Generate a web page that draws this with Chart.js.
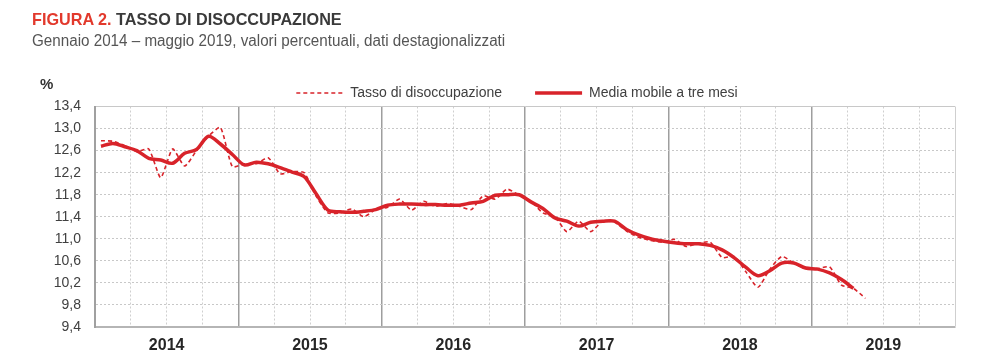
<!DOCTYPE html>
<html>
<head>
<meta charset="utf-8">
<script src="https://cdn.jsdelivr.net/npm/chart.js@4.4.1/dist/chart.umd.min.js"></script>
<style>
  html, body { margin: 0; padding: 0; background: #fff; }
  #wrap { position: relative; width: 1000px; height: 360px; }
  #chart { position: absolute; left: 0; top: 0; }
  .txt { font-family: 'Liberation Sans', Arial, sans-serif; white-space: nowrap; transform-origin: 0 0; }
  #title { position: absolute; left: 32px; top: 10px; font-size: 17px; font-weight: bold; color: #3a3a3a; transform: scaleX(0.954); }
  #title span { color: #e2392c; }
  #subtitle { position: absolute; left: 32px; top: 32px; font-size: 16px; color: #555; transform: scaleX(0.95); }
  #unit { position: absolute; left: 40px; top: 75px; font-size: 15px; font-weight: bold; color: #333; }
</style>
</head>
<body>
<div id="wrap">
  <canvas id="chart" width="1000" height="360"></canvas>
  <div id="title" class="txt"><span>FIGURA 2.</span> TASSO DI DISOCCUPAZIONE</div>
  <div id="subtitle" class="txt">Gennaio 2014 – maggio 2019, valori percentuali, dati destagionalizzati</div>
  <div id="unit" class="txt">%</div>
</div>
<script>
const years = ['2014', '2015', '2016', '2017', '2018', '2019'];
const months = ['gen', 'feb', 'mar', 'apr', 'mag', 'giu', 'lug', 'ago', 'set', 'ott', 'nov', 'dic'];
const yTicks = [9.4, 9.8, 10.2, 10.6, 11.0, 11.4, 11.8, 12.2, 12.6, 13.0, 13.4];

// tasso di disoccupazione mensile, gen 2014 - mag 2019
const tasso = [
  12.78, 12.77, 12.69, 12.58, 12.63, 12.11, 12.63, 12.32, 12.60, 12.86, 13.02, 12.31,
  12.36, 12.36, 12.47, 12.18, 12.22, 12.20, 11.78, 11.47, 11.47, 11.54, 11.40, 11.53,
  11.57, 11.72, 11.52, 11.68, 11.59, 11.64, 11.59, 11.53, 11.78, 11.72, 11.90, 11.79,
  11.68, 11.47, 11.40, 11.13, 11.32, 11.13, 11.32, 11.30, 11.14, 11.03, 10.97, 10.94,
  10.99, 10.86, 10.92, 10.94, 10.66, 10.68, 10.40, 10.12, 10.45, 10.68, 10.56, 10.46,
  10.46, 10.49, 10.16, 10.10, 9.92
];

// media mobile a tre mesi, gen 2014 - apr 2019
const media = [
  12.68, 12.73, 12.67, 12.60, 12.46, 12.43, 12.37, 12.55, 12.62, 12.86, 12.72, 12.53,
  12.34, 12.39, 12.36, 12.29, 12.21, 12.13, 11.82, 11.52, 11.49, 11.48, 11.50, 11.53,
  11.61, 11.63, 11.63, 11.62, 11.62, 11.61, 11.61, 11.65, 11.68, 11.79, 11.80, 11.80,
  11.67, 11.55, 11.38, 11.32, 11.23, 11.30, 11.32, 11.32, 11.17, 11.07, 11.00, 10.96,
  10.93, 10.91, 10.91, 10.88, 10.80, 10.66, 10.48, 10.33, 10.42, 10.56, 10.56, 10.47,
  10.45, 10.38, 10.26, 10.10
];

const labels = [];
years.forEach(y => months.forEach(m => labels.push(m + ' ' + y)));

const RED = '#d8232a';
const FONT = "'Liberation Sans', Arial, sans-serif";
// legend is centred between the layout paddings, so the spare right axis keeps the plot edge at x=955
const PAD_LEFT = 50;
const PAD_RIGHT = 16;

new Chart(document.getElementById('chart'), {
  type: 'line',
  data: {
    labels: labels,
    datasets: [
      {
        label: 'Tasso di disoccupazione',
        data: tasso,
        borderColor: RED,
        borderWidth: 1.6,
        borderDash: [4, 3],
        tension: 0.2,
        pointRadius: 0,
        fill: false
      },
      {
        label: 'Media mobile a tre mesi',
        data: media,
        borderColor: RED,
        borderWidth: 3.5,
        tension: 0.3,
        pointRadius: 0,
        fill: false
      }
    ]
  },
  options: {
    responsive: false,
    animation: false,
    layout: { padding: { left: PAD_LEFT, right: PAD_RIGHT, top: 53, bottom: 0 } },
    plugins: {
      tooltip: { enabled: false },
      legend: {
        position: 'top',
        maxHeight: 53.5,
        labels: {
          usePointStyle: true,
          pointStyle: 'line',
          pointStyleWidth: 47,
          padding: 33,
          color: '#404040',
          font: { family: FONT, size: 14 },
          generateLabels: chart => {
            const items = Chart.defaults.plugins.legend.labels.generateLabels(chart);
            items.forEach(item => {
              const ds = chart.data.datasets[item.datasetIndex];
              item.lineWidth = ds.borderWidth;
              item.lineDash = ds.borderDash || [];
            });
            return items;
          }
        }
      }
    },
    scales: {
      x: {
        offset: true,
        grid: {
          offset: true,
          drawTicks: false,
          color: ctx => {
            const i = ctx.index;
            if (i === undefined) return '#cfcfcf';
            if (i % 12 === 0) return '#9e9e9e';
            if (i % 3 === 0) return '#cfcfcf';
            return 'rgba(0,0,0,0)';
          },
          lineWidth: ctx => (ctx.index !== undefined && ctx.index % 12 === 0) ? 1.5 : 1
        },
        border: {
          color: '#b5b5b5',
          width: 2,
          dash: ctx => (ctx.index !== undefined && ctx.index % 12 !== 0) ? [2, 2] : []
        },
        ticks: {
          autoSkip: false,
          maxRotation: 0,
          padding: 9,
          labelOffset: -6,
          color: '#262626',
          font: { family: FONT, size: 16, weight: 'bold' },
          callback: (v, i) => (i % 12 === 6 ? years[Math.floor(i / 12)] : '')
        },
        afterFit: s => { s.height = 33; }
      },
      y: {
        min: 9.4,
        max: 13.4,
        afterBuildTicks: s => { s.ticks = yTicks.map(v => ({ value: v })); },
        grid: {
          drawTicks: false,
          color: '#c8c8c8',
          lineWidth: 1
        },
        border: {
          color: '#a0a0a0',
          width: 2,
          dash: ctx => (ctx.index === undefined || ctx.index === yTicks.length - 1) ? [] : [2, 2]
        },
        ticks: {
          padding: 14,
          color: '#404040',
          font: { family: FONT, size: 14 },
          callback: v => v.toFixed(1).replace('.', ',')
        },
        afterFit: s => { s.width = 95 - PAD_LEFT; }
      },
      yRight: {
        position: 'right',
        grid: { display: false },
        border: { display: false },
        ticks: { display: false },
        afterFit: s => { s.width = 1000 - PAD_RIGHT - 955; }
      }
    }
  }
});
</script>
</body>
</html>
